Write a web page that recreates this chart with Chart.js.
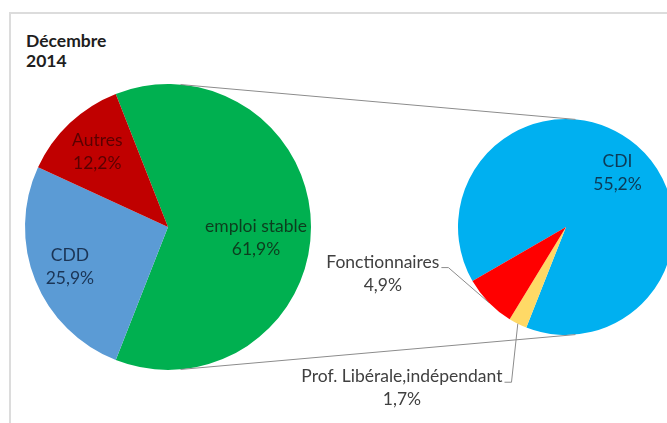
<!DOCTYPE html>
<html>
<head>
<meta charset="utf-8">
<script src="https://cdn.jsdelivr.net/npm/chart.js@4.4.1/dist/chart.umd.min.js"></script>
<style>
  html, body { margin: 0; padding: 0; background: #fff; overflow: hidden; }
  #wrap { position: relative; width: 667px; height: 423px; overflow: hidden; }
  #frame { position: absolute; left: 9px; top: 12px; width: 720px; height: 460px;
           border-left: 2px solid #dcdcdc; border-top: 2px solid #dcdcdc; }
  #title { position: absolute; left: 26px; top: 31px; font: bold 17.5px Lato, sans-serif;
           line-height: 20px; color: #1e1e1e; }
  canvas { position: absolute; left: 0; top: 0; }
</style>
</head>
<body>
<div id="wrap">
  <div id="frame"></div>
  <div id="title">Décembre<br>2014</div>
  <canvas id="mainPie" width="667" height="423"></canvas>
  <canvas id="detailPie" width="690" height="423"></canvas>
</div>
<script>
// data
const mainLabels = ['emploi stable', 'CDD', 'Autres'];
const mainValues = [61.9, 25.9, 12.2];
const detailLabels = ['CDI', 'Prof. Libérale,indépendant', 'Fonctionnaires'];
const detailValues = [55.2, 1.7, 4.9];

// styles
const mainColors = ['#00b050', '#5b9bd5', '#c00000'];
const mainTextColors = ['#0c3d1e', '#1b3556', '#5a0000'];
const mainLabelPos = [[0.62, 7], [0.74, 0], [0.72, 0]];   // [radius factor, angle shift deg]
const detailColors = ['#00b0f0', '#ffd966', '#ff0000'];
const detailTextColors = ['#0d3a56', '#404040', '#404040'];
const detailLabelPos = [[0.69, 3], [2.13, 19], [1.75, 30]];
const detailOutside = [false, true, true];

const fmt = v => v.toFixed(1).replace('.', ',') + '%';

// labels inside / outside the slices
const sliceLabels = {
    id: 'sliceLabels',
    afterDatasetsDraw(chart, args, opts) {
        const ctx = chart.ctx;
        const arcs = chart.getDatasetMeta(0).data;
        const labels = chart.data.labels;
        const values = chart.data.datasets[0].data;
        ctx.save();
        ctx.font = '17.5px Lato, sans-serif';
        ctx.textAlign = 'center';
        ctx.textBaseline = 'middle';
        arcs.forEach((arc, i) => {
            const p = arc.getProps(['x', 'y', 'startAngle', 'endAngle', 'outerRadius'], true);
            const mid = (p.startAngle + p.endAngle) / 2;
            const a = mid + opts.pos[i][1] * Math.PI / 180;
            const r = p.outerRadius * opts.pos[i][0];
            const tx = p.x + Math.cos(a) * r;
            const ty = p.y + Math.sin(a) * r;
            ctx.fillStyle = opts.colors[i];
            ctx.fillText(labels[i], tx, ty - 11.5);
            ctx.fillText(fmt(values[i]), tx, ty + 11.5);
            if (opts.outside && opts.outside[i]) {
                const right = tx + ctx.measureText(labels[i]).width / 2;
                const ly = ty - 6;
                const ex = p.x + Math.cos(mid) * p.outerRadius;
                const ey = p.y + Math.sin(mid) * p.outerRadius;
                ctx.strokeStyle = '#8c8c8c';
                ctx.lineWidth = 1;
                ctx.beginPath();
                ctx.moveTo(right + 2, ly);
                ctx.lineTo(right + 9, ly);
                ctx.lineTo(ex, ey);
                ctx.stroke();
            }
        });
        ctx.restore();
    }
};

// MAIN PIE
const mainSum = mainValues.reduce((a, b) => a + b, 0);
const mainChart = new Chart(document.getElementById('mainPie'), {
    type: 'pie',
    data: {
        labels: mainLabels,
        datasets: [{
            data: mainValues,
            backgroundColor: mainColors,
            borderWidth: 0,
            radius: 143
        }]
    },
    options: {
        responsive: false,
        animation: false,
        rotation: 90 - mainValues[0] / mainSum * 180,
        layout: { padding: { left: 25, right: 356, top: 84, bottom: 53 } },
        plugins: {
            legend: { display: false },
            tooltip: { enabled: false },
            sliceLabels: { colors: mainTextColors, pos: mainLabelPos }
        }
    },
    plugins: [sliceLabels]
});

// connector lines between the two pies (outer tangents)
const connectors = {
    id: 'connectors',
    afterDatasetsDraw(chart) {
        const a = mainChart.getDatasetMeta(0).data[0].getProps(['x', 'y', 'outerRadius'], true);
        const b = chart.getDatasetMeta(0).data[0].getProps(['x', 'y', 'outerRadius'], true);
        const dx = b.x - a.x, dy = b.y - a.y;
        const d = Math.hypot(dx, dy);
        const ux = dx / d, uy = dy / d;
        const k = (a.outerRadius - b.outerRadius) / d;
        const h = Math.sqrt(1 - k * k);
        const ctx = chart.ctx;
        ctx.save();
        ctx.strokeStyle = '#8c8c8c';
        ctx.lineWidth = 1;
        [1, -1].forEach(s => {
            const nx = k * ux + s * h * uy;
            const ny = k * uy - s * h * ux;
            ctx.beginPath();
            ctx.moveTo(a.x + nx * a.outerRadius, a.y + ny * a.outerRadius);
            ctx.lineTo(b.x + nx * b.outerRadius, b.y + ny * b.outerRadius);
            ctx.stroke();
        });
        ctx.restore();
    }
};

// DETAIL PIE
const detailChart = new Chart(document.getElementById('detailPie'), {
    type: 'pie',
    data: {
        labels: detailLabels,
        datasets: [{
            data: detailValues,
            backgroundColor: detailColors,
            borderWidth: 0,
            radius: 108
        }]
    },
    options: {
        responsive: false,
        animation: false,
        rotation: 240,
        layout: { padding: { left: 458, right: 16, top: 119, bottom: 88 } },
        plugins: {
            legend: { display: false },
            tooltip: { enabled: false },
            sliceLabels: { colors: detailTextColors, pos: detailLabelPos, outside: detailOutside }
        }
    },
    plugins: [connectors, sliceLabels]
});
</script>
</body>
</html>
